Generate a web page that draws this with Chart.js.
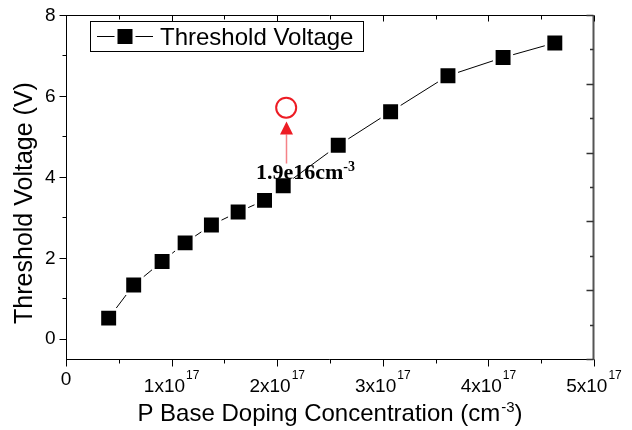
<!DOCTYPE html>
<html><head><meta charset="utf-8">
<script src="https://cdn.jsdelivr.net/npm/chart.js@4/dist/chart.umd.min.js"></script>
<style>html,body{margin:0;padding:0;background:#fff;}#wrap{width:632px;height:430px;}</style>
</head><body><div id="wrap"><canvas id="c" width="632" height="430"></canvas></div>
<script>
// ---- data ----
const seriesLabel = 'Threshold Voltage';
const dopingConc = [0.404e17, 0.641e17, 0.91e17, 1.128e17, 1.377e17, 1.63e17, 1.88e17, 2.057e17, 2.578e17, 3.074e17, 3.617e17, 4.139e17, 4.629e17];
const thresholdV = [0.51, 1.33, 1.91, 2.37, 2.81, 3.13, 3.42, 3.78, 4.78, 5.61, 6.50, 6.95, 7.31];
const markedX = [2.085e17];
const markedY = [5.71];
const arrowFromY = 4.33;
const arrowToY = 5.37;
const annotationMain = '1.9e16cm';
const annotationSup = '-3';
const xMajorTicks = [0, 1e17, 2e17, 3e17, 4e17, 5e17];
const xMinorTicks = [0.5e17, 1.5e17, 2.5e17, 3.5e17, 4.5e17];
const xTickBase = ['0', '1x10', '2x10', '3x10', '4x10', '5x10'];
const xTickSup = ['', '17', '17', '17', '17', '17'];
const yMajorTicks = [0, 2, 4, 6, 8];
const yMinorTicks = [1, 3, 5, 7];
const yTickLabels = ['0', '2', '4', '6', '8'];
const rightMajorTicks = [0, 2, 4, 6, 8, 10];
const rightMinorTicks = [1, 3, 5, 7, 9];
const xTitleMain = 'P Base Doping Concentration (cm';
const xTitleSup = '-3';
const xTitleEnd = ')';
const yTitle = 'Threshold Voltage (V)';

const SANS = '"Liberation Sans", Arial, sans-serif';
const SERIF = '"Liberation Serif", "Times New Roman", serif';
const RED = '#ed1c24';

const framePlugin = {
  id: 'frame',
  afterDatasetsDraw(chart) {
    const {ctx, chartArea: a, scales} = chart;
    const x = scales.x, y = scales.y, y2 = scales.y2;
    const L = a.left + 0.5, R = a.right - 0.5, T = a.top + 0.5, B = a.bottom + 0.5;
    ctx.save();
    // --- annotation arrow ---
    const ax = Math.round(x.getPixelForValue(markedX[0])) + 0.5;
    const yTip = y.getPixelForValue(arrowToY);
    const yBase = yTip + 13;
    const yTail = y.getPixelForValue(arrowFromY);
    ctx.strokeStyle = 'rgba(237,28,36,0.55)';
    ctx.lineWidth = 1.5;
    ctx.beginPath(); ctx.moveTo(ax, yTail); ctx.lineTo(ax, yBase); ctx.stroke();
    ctx.fillStyle = RED;
    ctx.beginPath(); ctx.moveTo(ax, yTip); ctx.lineTo(ax - 6.5, yBase); ctx.lineTo(ax + 6.5, yBase); ctx.closePath(); ctx.fill();
    // annotation text
    ctx.fillStyle = '#000';
    ctx.textBaseline = 'alphabetic';
    ctx.textAlign = 'left';
    ctx.font = 'bold 22px ' + SERIF;
    const tx = ax - 30.5, ty = yTail + 15;
    ctx.fillText(annotationMain, tx, ty);
    const w1 = ctx.measureText(annotationMain).width;
    ctx.font = 'bold 14px ' + SERIF;
    ctx.fillText(annotationSup, tx + w1, ty - 8);

    // --- frame ---
    ctx.strokeStyle = '#000';
    ctx.lineWidth = 1;
    ctx.beginPath();
    ctx.moveTo(L, T); ctx.lineTo(L, B + 0.5);
    ctx.moveTo(L - 0.5, B); ctx.lineTo(R, B);
    ctx.moveTo(L - 0.5, T); ctx.lineTo(R, T);
    ctx.stroke();
    ctx.strokeStyle = '#555';
    ctx.lineWidth = 2;
    ctx.beginPath(); ctx.moveTo(R, T - 0.5); ctx.lineTo(R, B + 0.5); ctx.stroke();

    // x ticks (bottom outward, top inward)
    ctx.strokeStyle = '#000'; ctx.lineWidth = 1;
    ctx.beginPath();
    xMajorTicks.forEach(v => { const p = Math.round(x.getPixelForValue(v)) + 0.5;
      ctx.moveTo(p, B); ctx.lineTo(p, B + 7); ctx.moveTo(p, T); ctx.lineTo(p, T + 6); });
    xMinorTicks.forEach(v => { const p = Math.round(x.getPixelForValue(v)) + 0.5;
      ctx.moveTo(p, B); ctx.lineTo(p, B + 4); ctx.moveTo(p, T); ctx.lineTo(p, T + 4); });
    // y ticks (left outward)
    yMajorTicks.forEach(v => { const p = Math.round(y.getPixelForValue(v)) + 0.5;
      ctx.moveTo(L, p); ctx.lineTo(L - 7, p); });
    yMinorTicks.forEach(v => { const p = Math.round(y.getPixelForValue(v)) + 0.5;
      ctx.moveTo(L, p); ctx.lineTo(L - 4, p); });
    ctx.stroke();
    // right ticks (inward) on mirror scale
    ctx.strokeStyle = '#333'; ctx.lineWidth = 1.5;
    ctx.beginPath();
    rightMajorTicks.forEach(v => { const p = Math.round(y2.getPixelForValue(v)) + 0.5;
      ctx.moveTo(R, p); ctx.lineTo(R - 7, p); });
    rightMinorTicks.forEach(v => { const p = Math.round(y2.getPixelForValue(v)) + 0.5;
      ctx.moveTo(R, p); ctx.lineTo(R - 3.5, p); });
    ctx.stroke();

    // y tick labels
    ctx.fillStyle = '#000';
    ctx.font = '19px ' + SANS;
    ctx.textAlign = 'right';
    ctx.textBaseline = 'middle';
    yMajorTicks.forEach((v, i) => ctx.fillText(yTickLabels[i], L - 11, y.getPixelForValue(v) + 0.5));

    // x tick labels with superscripts
    ctx.textAlign = 'left';
    ctx.textBaseline = 'alphabetic';
    xMajorTicks.forEach((v, i) => {
      const p = x.getPixelForValue(v);
      ctx.font = '19px ' + SANS;
      const wb = ctx.measureText(xTickBase[i]).width;
      let ws = 0;
      if (xTickSup[i]) { ctx.font = '12px ' + SANS; ws = ctx.measureText(xTickSup[i]).width + 1; }
      const start = p - (wb + ws) / 2;
      ctx.font = '19px ' + SANS;
      if (xTickSup[i]) {
        ctx.fillText(xTickBase[i], start, B + 32);
        ctx.font = '12px ' + SANS;
        ctx.fillText(xTickSup[i], start + wb + 1, B + 19.5);
      } else {
        ctx.fillText(xTickBase[i], start, B + 25);
      }
    });

    // x title
    ctx.font = '24px ' + SANS;
    const wm = ctx.measureText(xTitleMain).width;
    ctx.font = '15px ' + SANS;
    const wsup = ctx.measureText(xTitleSup).width + 1;
    ctx.font = '24px ' + SANS;
    const we = ctx.measureText(xTitleEnd).width;
    const cx = (a.left + a.right) / 2;
    let sx = cx - (wm + wsup + we) / 2;
    const by = B + 61;
    ctx.fillText(xTitleMain, sx, by);
    ctx.font = '15px ' + SANS;
    ctx.fillText(xTitleSup, sx + wm + 1, by - 9);
    ctx.font = '24px ' + SANS;
    ctx.fillText(xTitleEnd, sx + wm + wsup, by);

    // y title
    ctx.save();
    ctx.translate(32, 203);
    ctx.rotate(-Math.PI / 2);
    ctx.font = '25px ' + SANS;
    ctx.textAlign = 'center';
    ctx.textBaseline = 'alphabetic';
    ctx.fillText(yTitle, 0, 0);
    ctx.restore();

    // legend
    ctx.strokeStyle = '#000'; ctx.lineWidth = 1;
    ctx.strokeRect(90.5, 21.5, 273, 30);
    ctx.beginPath(); ctx.moveTo(97, 36.5); ctx.lineTo(153, 36.5); ctx.stroke();
    ctx.fillStyle = '#fff'; ctx.fillRect(114.5, 26, 21, 21);
    ctx.fillStyle = '#000'; ctx.fillRect(117.5, 29, 15, 15);
    ctx.font = '24px ' + SANS;
    ctx.textAlign = 'left';
    ctx.fillText(chart.data.datasets[0].label, 160, 45);
    ctx.restore();
  }
};

new Chart(document.getElementById('c'), {
  type: 'scatter',
  data: {
    datasets: [
      {
        label: seriesLabel,
        data: dopingConc.map((v, i) => ({x: v, y: thresholdV[i]})),
        showLine: true,
        borderColor: '#000',
        borderWidth: 1,
        pointStyle: 'rect',
        pointRadius: 12.4,
        pointBackgroundColor: '#000',
        pointBorderColor: '#fff',
        pointBorderWidth: 2.6,
        order: 2
      },
      {
        label: 'marked',
        data: markedX.map((v, i) => ({x: v, y: markedY[i]})),
        showLine: false,
        pointStyle: 'circle',
        pointRadius: 10,
        pointBackgroundColor: '#fff',
        pointBorderColor: RED,
        pointBorderWidth: 2,
        order: 1
      }
    ]
  },
  options: {
    responsive: false,
    animation: false,
    devicePixelRatio: 1,
    events: [],
    layout: {padding: {left: 66, right: 38, top: 13, bottom: 71}},
    plugins: {legend: {display: false}, tooltip: {enabled: false}},
    scales: {
      x: {type: 'linear', display: false, min: 0, max: 5e17},
      y: {type: 'linear', display: false, min: -0.5, max: 8},
      y2: {type: 'linear', display: false, min: 0, max: 10}
    }
  },
  plugins: [framePlugin]
});
</script>
</body></html>
